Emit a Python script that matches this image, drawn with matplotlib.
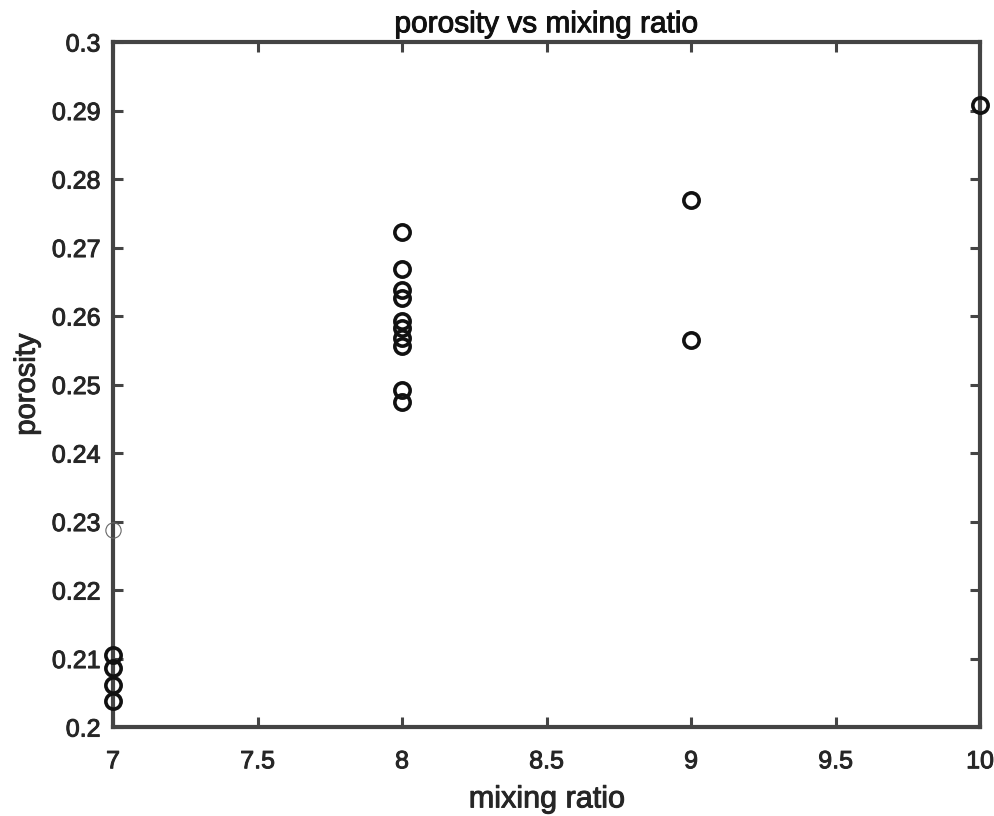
import matplotlib
matplotlib.use("Agg")
import matplotlib.pyplot as plt
import matplotlib.patheffects as pe

plt.rcParams['font.family'] = ['Liberation Sans', 'DejaVu Sans']

# mixing ratio / porosity samples
ratio_7 = [7, 7, 7, 7]
poro_7 = [0.2105, 0.2086, 0.2061, 0.2038]
ratio_8 = [8] * 10
poro_8 = [0.2723, 0.2668, 0.2638, 0.2626, 0.2593, 0.2582, 0.2568, 0.2556, 0.2492, 0.2474]
ratio_9 = [9, 9]
poro_9 = [0.2769, 0.2565]
ratio_10 = [10]
poro_10 = [0.2908]
# faint extra point
ratio_extra = [7]
poro_extra = [0.2288]

xticks = [7, 7.5, 8, 8.5, 9, 9.5, 10]
xticklabels = ['7', '7.5', '8', '8.5', '9', '9.5', '10']
yticks = [0.2, 0.21, 0.22, 0.23, 0.24, 0.25, 0.26, 0.27, 0.28, 0.29, 0.3]
yticklabels = ['0.2', '0.21', '0.22', '0.23', '0.24', '0.25', '0.26', '0.27', '0.28', '0.29', '0.3']

fig = plt.figure(figsize=(9.95, 8.16), dpi=100)
ax = fig.add_axes([0.1136, 0.109, 0.8714, 0.8395])

xs = ratio_7 + ratio_8 + ratio_9 + ratio_10
ys = poro_7 + poro_8 + poro_9 + poro_10
ax.plot(xs, ys, 'o', markersize=11, markerfacecolor='none',
        markeredgecolor='#111111', markeredgewidth=2.6, clip_on=False, zorder=3)
ax.plot(ratio_extra, poro_extra, 'o', markersize=11, markerfacecolor='none',
        markeredgecolor='#666666', markeredgewidth=0.8, clip_on=False, zorder=3)

ax.set_xlim(7, 10)
ax.set_ylim(0.2, 0.3)
ax.set_xticks(xticks)
ax.set_xticklabels(xticklabels)
ax.set_yticks(yticks)
ax.set_yticklabels(yticklabels)

axis_col = '#444444'
for s in ax.spines.values():
    s.set_linewidth(3)
    s.set_color(axis_col)
ax.tick_params(direction='in', length=7, width=2.2, colors=axis_col,
               top=True, right=True, labelsize=18, pad=9)
ax.tick_params(axis='x', pad=16)

thick = [pe.withStroke(linewidth=0.7, foreground='#262626')]
for lbl in ax.get_xticklabels() + ax.get_yticklabels():
    lbl.set_color('#262626')
    lbl.set_path_effects(thick)

xl = ax.set_xlabel('mixing ratio', fontsize=22, color='#262626', labelpad=8)
yl = ax.set_ylabel('porosity', fontsize=21, color='#262626', labelpad=8)
tt = ax.set_title('porosity vs mixing ratio', fontsize=21.5, color='#111111', pad=7)
for t in (xl, yl):
    t.set_path_effects(thick)
tt.set_path_effects([pe.withStroke(linewidth=0.7, foreground='#111111')])

fig.savefig('out.png', dpi=100)
